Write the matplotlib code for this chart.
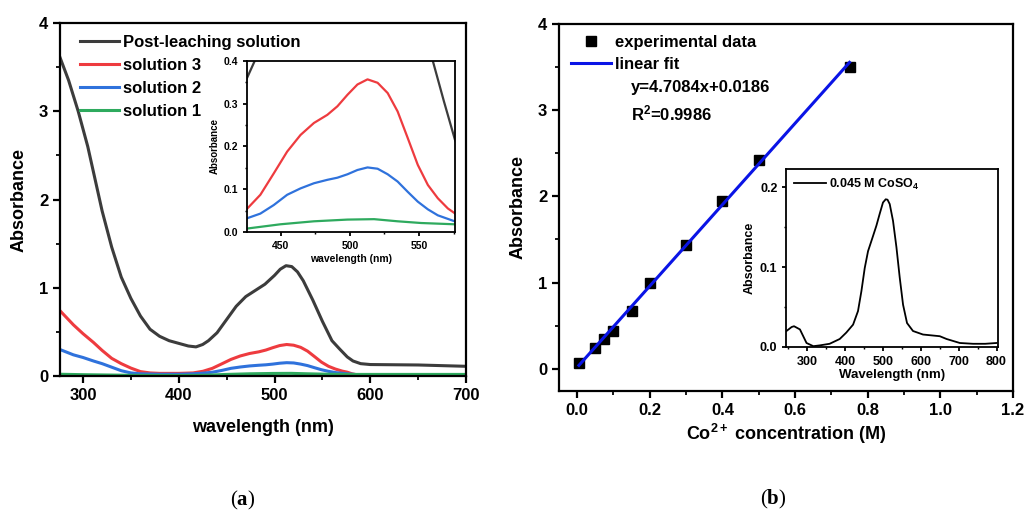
import numpy as np
import matplotlib
matplotlib.use("Agg")
import matplotlib.pyplot as plt
from matplotlib.ticker import MultipleLocator

plt.rcParams['font.family'] = ['Liberation Sans', 'DejaVu Sans']
plt.rcParams['font.weight'] = 'bold'
plt.rcParams['axes.labelweight'] = 'bold'
plt.rcParams['mathtext.fontset'] = 'custom'
plt.rcParams['mathtext.rm'] = 'Liberation Sans:bold'
plt.rcParams['mathtext.it'] = 'Liberation Sans:bold:italic'
plt.rcParams['mathtext.bf'] = 'Liberation Serif:bold'

# ---- panel (a): UV-vis spectra ----
wl_post = [276, 285, 295, 305, 312, 320, 330, 340, 350, 360, 370, 380, 390, 400, 410,
           418, 425, 431, 440, 450, 460, 470, 480, 490, 500, 506, 512, 518, 524, 530,
           540, 550, 560, 568, 576, 582, 590, 600, 650, 700]
abs_post = [3.61, 3.35, 3.0, 2.6, 2.26, 1.87, 1.46, 1.12, 0.88, 0.68, 0.53, 0.45, 0.40, 0.37, 0.34,
            0.33, 0.357, 0.40, 0.49, 0.64, 0.79, 0.90, 0.97, 1.04, 1.14, 1.21, 1.25, 1.24, 1.18, 1.08,
            0.86, 0.62, 0.40, 0.306, 0.216, 0.17, 0.14, 0.13, 0.125, 0.11]

wl_s3 = [276, 290, 300, 311, 320, 330, 340, 350, 360, 370, 380, 400, 415,
         425.4, 435.1, 444.8, 454.5, 464.2, 473.9, 483.6, 490.9, 498.2, 505.4, 512.7,
         520, 527.3, 534.5, 541.8, 549.1, 556.4, 563.6, 570.9, 575.8, 581, 588]
abs_s3 = [0.74, 0.58, 0.48, 0.38, 0.29, 0.20, 0.14, 0.09, 0.05, 0.035, 0.03, 0.03, 0.035,
          0.054, 0.087, 0.137, 0.188, 0.227, 0.255, 0.274, 0.294, 0.321, 0.345, 0.357,
          0.349, 0.325, 0.282, 0.220, 0.157, 0.110, 0.079, 0.055, 0.044, 0.025, 0.01]

wl_s2 = [276, 290, 300, 311, 320, 330, 340, 350, 360, 380, 400, 415,
         425.4, 435.1, 444.8, 454.5, 464.2, 473.9, 483.6, 490.9, 498.2, 505.4, 512.7,
         520, 527.3, 534.5, 541.8, 549.1, 556.4, 563.6, 575.8, 590, 600, 700]
abs_s2 = [0.30, 0.24, 0.21, 0.17, 0.14, 0.10, 0.06, 0.035, 0.025, 0.02, 0.02, 0.025,
          0.032, 0.043, 0.063, 0.087, 0.102, 0.114, 0.122, 0.127, 0.135, 0.145, 0.151,
          0.148, 0.135, 0.118, 0.094, 0.071, 0.053, 0.039, 0.025, 0.012, 0.01, 0.01]

wl_s1 = [276, 300, 350, 400, 425.4, 449.6, 473.9, 498.2, 517.5, 534.5, 551.5, 575.8, 600, 650, 700]
abs_s1 = [0.02, 0.015, 0.008, 0.006, 0.008, 0.018, 0.025, 0.029, 0.030, 0.025, 0.021, 0.018,
          0.018, 0.018, 0.018]

series_a = [
    ("Post-leaching solution", wl_post, abs_post, "#3c3c3c"),
    ("solution 3", wl_s3, abs_s3, "#ee3b3f"),
    ("solution 2", wl_s2, abs_s2, "#2f72dc"),
    ("solution 1", wl_s1, abs_s1, "#2eaa5e"),
]

# ---- panel (b): calibration ----
conc = [0.005, 0.05, 0.075, 0.1, 0.15, 0.2, 0.3, 0.4, 0.5, 0.75]
absorb = [0.07, 0.24, 0.35, 0.44, 0.67, 0.99, 1.44, 1.94, 2.42, 3.5]
slope, intercept = 4.7084, 0.0186

wl_co = [245, 258.6, 265, 280.6, 298, 316, 333, 359, 385.7, 403, 421, 434, 443, 451.8,
         460.5, 473.7, 482.6, 491.4, 500, 507.2, 512, 517.8, 526.5, 535.5, 544.2, 553,
         563.5, 579.3, 605.7, 650, 668, 703, 738, 770, 800]
abs_co = [0.020, 0.025, 0.026, 0.022, 0.005, 0.001, 0.002, 0.004, 0.010, 0.018, 0.028, 0.045,
          0.070, 0.099, 0.120, 0.139, 0.152, 0.167, 0.181, 0.185, 0.1845, 0.179, 0.158, 0.125,
          0.087, 0.053, 0.030, 0.020, 0.0156, 0.0135, 0.010, 0.005, 0.004, 0.004, 0.005]


def style_axes(ax, lw=1.6, size=12, tl=5):
    for s in ax.spines.values():
        s.set_linewidth(lw)
    ax.tick_params(which='major', direction='out', length=tl, width=lw, labelsize=size,
                   top=False, right=False)
    ax.tick_params(which='minor', direction='out', length=tl * 0.6, width=lw * 0.8,
                   top=False, right=False)
    for lab in ax.get_xticklabels() + ax.get_yticklabels():
        lab.set_fontweight('bold')


fig = plt.figure(figsize=(10.29, 5.12), dpi=100)

# main (a)
ax1 = fig.add_axes([0.0583, 0.2656, 0.3946, 0.6895])
for name, x, y, c in series_a:
    ax1.plot(x, y, color=c, lw=2.2, label=name)
ax1.set_xlim(276, 700)
ax1.set_ylim(0, 4)
ax1.xaxis.set_major_locator(MultipleLocator(100))
ax1.xaxis.set_minor_locator(MultipleLocator(50))
ax1.yaxis.set_major_locator(MultipleLocator(1))
ax1.yaxis.set_minor_locator(MultipleLocator(0.5))
style_axes(ax1)
ax1.set_xlabel("wavelength (nm)", fontsize=13, labelpad=12)
ax1.set_ylabel("Absorbance", fontsize=13, labelpad=8)
ax1.legend(loc='upper left', bbox_to_anchor=(0.02, 1.0), frameon=False, fontsize=12,
           handlelength=2.35, handletextpad=0.25, labelspacing=0.48, borderaxespad=0.3)

# inset (a)
ins1 = fig.add_axes([0.24, 0.5469, 0.2021, 0.334])
for name, x, y, c in series_a:
    ins1.plot(x, y, color=c, lw=1.6)
ins1.set_xlim(425.4, 576)
ins1.set_ylim(0, 0.4)
ins1.xaxis.set_major_locator(MultipleLocator(50))
ins1.xaxis.set_minor_locator(MultipleLocator(25))
ins1.yaxis.set_major_locator(MultipleLocator(0.1))
ins1.yaxis.set_minor_locator(MultipleLocator(0.05))
style_axes(ins1, lw=1.3, size=7.5, tl=3)
ins1.set_xlabel("wavelength (nm)", fontsize=7.5, labelpad=2)
ins1.set_ylabel("Absorbance", fontsize=7, labelpad=3)

# main (b)
ax2 = fig.add_axes([0.5432, 0.2363, 0.4412, 0.7178])
ax2.plot(conc, absorb, 's', color='black', ms=6.5, label="experimental data", zorder=3)
fit_x = np.array([conc[0], conc[-1]])
ax2.plot(fit_x, slope * fit_x + intercept, color='#0a14e6', lw=2.2, label="linear fit", zorder=4)
ax2.set_xlim(-0.05, 1.2)
ax2.set_ylim(-0.255, 4)
ax2.xaxis.set_major_locator(MultipleLocator(0.2))
ax2.xaxis.set_minor_locator(MultipleLocator(0.1))
ax2.yaxis.set_major_locator(MultipleLocator(1))
ax2.yaxis.set_minor_locator(MultipleLocator(0.5))
style_axes(ax2)
ax2.set_xlabel(r"Co$^{2+}$ concentration (M)", fontsize=13, labelpad=3)
ax2.set_ylabel("Absorbance", fontsize=13, labelpad=8)
ax2.legend(loc='upper left', bbox_to_anchor=(0.0, 1.0), frameon=False, fontsize=12,
           handlelength=2.4, handletextpad=0.25, labelspacing=0.42, borderaxespad=0.3)
ax2.text(0.159, 0.825, "y=4.7084x+0.0186", transform=ax2.transAxes, fontsize=12,
         fontweight='bold', va='center')
ax2.text(0.159, 0.755, r"R$^2$=0.9986", transform=ax2.transAxes, fontsize=12,
         fontweight='bold', va='center')

# inset (b)
ins2 = fig.add_axes([0.7643, 0.3223, 0.206, 0.3477])
ins2.plot(wl_co, abs_co, color='black', lw=1.3, label=r"0.045 M CoSO$_4$")
ins2.set_xlim(245, 805)
ins2.set_ylim(0, 0.223)
ins2.xaxis.set_major_locator(MultipleLocator(100))
ins2.xaxis.set_minor_locator(MultipleLocator(50))
ins2.yaxis.set_major_locator(MultipleLocator(0.1))
ins2.yaxis.set_minor_locator(MultipleLocator(0.05))
style_axes(ins2, lw=1.3, size=9, tl=3)
ins2.set_xlabel("Wavelength (nm)", fontsize=9.5, labelpad=1)
ins2.set_ylabel("Absorbance", fontsize=9, labelpad=3)
ins2.legend(loc='upper left', frameon=False, fontsize=9, handlelength=2.6,
            handletextpad=0.2, borderaxespad=0.2)

# captions
fig.text(243 / 1029, 1 - 500 / 512, r"($\mathbf{a}$)", family='Liberation Serif',
         fontweight='normal', fontsize=15, ha='center', va='center')
fig.text(773 / 1029, 1 - 499 / 512, r"($\mathbf{b}$)", family='Liberation Serif',
         fontweight='normal', fontsize=15, ha='center', va='center')

fig.savefig("out.png", dpi=100)
